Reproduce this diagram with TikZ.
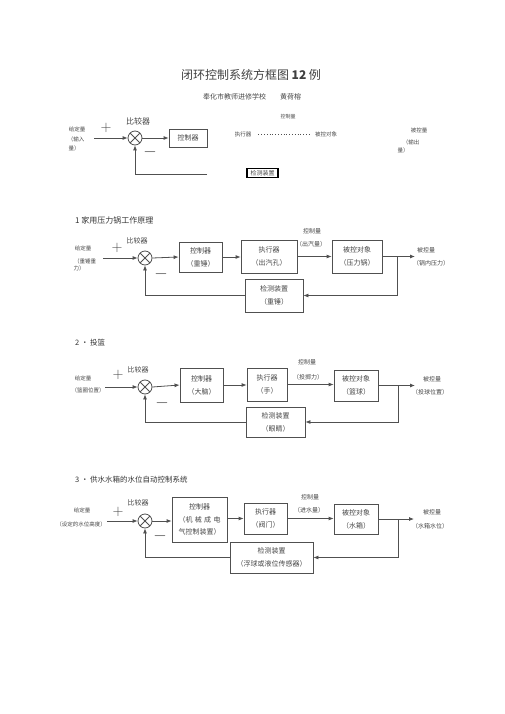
\documentclass[tikz,border=0pt]{standalone}
\usepackage{fontspec}
\setmainfont{Noto Sans CJK SC}
\usetikzlibrary{arrows.meta,positioning,calc}
\definecolor{ink}{RGB}{70,70,70}
\definecolor{wire}{RGB}{80,80,80}
\newcommand\fsz[2]{\fontsize{#1}{#2}\selectfont}
\tikzset{
  blk/.style={draw=wire,line width=0.8pt,align=center,inner sep=1pt,text=ink,font=\fsz{7}{13}},
  cmp/.style={circle,draw=wire,line width=0.8pt,minimum size=14pt,inner sep=0pt,
    path picture={\draw[wire,line width=0.8pt]
      (path picture bounding box.north west) -- (path picture bounding box.south east)
      (path picture bounding box.north east) -- (path picture bounding box.south west);}},
  flow/.style={-{Latex[length=5pt,width=4pt]},line width=0.8pt,draw=wire},
  lab/.style={text=ink,align=center,inner sep=1pt,font=\fsz{6}{12}},
  tiny/.style={lab,font=\fsz{5.5}{7}},
  sgn/.style={text=ink,inner sep=0pt,font=\fsz{15}{15}},
  neg/.style={text=ink,inner sep=0pt,font=\fsz{18}{18}},
  head/.style={text=black!80,anchor=west,inner sep=0pt,font=\fsz{7.5}{9}},
}

\begin{document}
\begin{tikzpicture}[x=1pt,y=-1pt]
\useasboundingbox (0,0) rectangle (505,714);

\node[text=black!75,inner sep=0pt,font=\fsz{12}{14}] (title) at (251,75) {闭环控制系统方框图 \textbf{12} 例};
\node[text=ink,inner sep=0pt,font=\fsz{7}{9}] (author) at (252,97) {奉化市教师进修学校\hspace{14pt}黄荷榕};

% 0
\node[cmp] (cmp0) at (135,138) {};
\node[blk,minimum width=38pt,minimum height=18pt] (ctl0) at (188,138) {控制器};
\node[blk,draw=black,line width=1.2pt,minimum width=31pt,minimum height=9pt,font=\fsz{6}{7}] (det0) at (262.5,173) {检测装置};
\coordinate (in0) at (94,138);
\coordinate (fb0) at (207,174);
\node[tiny] (set0) at (77,129) {给定量};
\node[tiny] (set0b) at (76,139) {（输入};
\node[tiny] (set0c) at (74,148) {量）};
\node[sgn] (plus0) at (106,128) {$+$};
\node[lab,font=\fsz{8}{9}] (cmpl0) at (138,121) {比较器};
\node[neg] (minus0) at (150,152) {$-$};
\node[tiny] (act0) at (243,134) {执行器};
\node[tiny] (obj0) at (326,134) {被控对象};
\node[tiny,font=\fsz{5}{6}] (u0) at (288,117) {控制量};
\node[tiny] (y0) at (419,130) {被控量};
\node[tiny] (y0b) at (411,142) {（输出};
\node[tiny] (y0c) at (403,150) {量）};
\draw[flow] (in0) -- (cmp0.west);
\draw[flow] (cmp0.east) -- (ctl0.west);
\draw[flow] (fb0) -| (cmp0.south);
\draw[wire,line width=0.5pt,dash pattern=on 0.8pt off 2pt,shorten <=6pt,shorten >=3pt] (act0.east) -- (obj0.west);

% 1
\node[head,font=\fsz{8}{9}] (h1) at (75,220) {1 家用压力锅工作原理};
\node[cmp] (cmp1) at (145,258) {};
\node[blk,minimum width=43pt,minimum height=30pt] (ctl1) at (200.5,257) {控制器\\（重锤）};
\node[blk,minimum width=56pt,minimum height=33pt] (act1) at (269,256.5) {执行器\\（出汽孔）};
\node[blk,minimum width=50pt,minimum height=33pt] (obj1) at (357,256.5) {被控对象\\（压力锅）};
\node[blk,minimum width=58pt,minimum height=33pt] (det1) at (274,295.5) {检测装置\\（重锤）};
\coordinate (in1) at (103,258);
\coordinate (out1) at (415,256.5);
\coordinate (br1) at (397,256.5);
\node[tiny] (set1) at (83,248) {给定量};
\node[tiny] (set1b) at (85,261) {（重锤重};
\node[tiny] (set1c) at (79,268) {力）};
\node[sgn] (plus1) at (117,248) {$+$};
\node[lab,font=\fsz{7}{9}] (cmpl1) at (137,241) {比较器};
\node[neg] (minus1) at (161,274) {$-$};
\node[lab] (u1) at (312,231) {控制量};
\node[lab] (u1b) at (311,244) {（出汽量）};
\node[lab] (y1) at (426,250) {被控量};
\node[lab] (y1b) at (431,263) {（锅内压力）};
\draw[flow] (in1) -- (cmp1.west);
\draw[flow] (cmp1.east) -- (ctl1.west);
\draw[flow] (ctl1.east) -- (ctl1.east -| act1.west);
\draw[flow] (act1.east) -- (obj1.west);
\draw[flow] (obj1.east) -- (out1);
\draw[flow] (br1) |- (det1.east);
\draw[flow] (det1.west) -| (cmp1.south);

% 2
\node[head] (h2) at (75,343) {2 · 投篮};
\node[cmp] (cmp2) at (145,387) {};
\node[blk,minimum width=43pt,minimum height=34pt] (ctl2) at (201.5,385) {控制器\\（大脑）};
\node[blk,minimum width=40pt,minimum height=33pt] (act2) at (267,384.5) {执行器\\（手）};
\node[blk,minimum width=44pt,minimum height=31pt] (obj2) at (356,385.5) {被控对象\\（篮球）};
\node[blk,minimum width=59pt,minimum height=30pt] (det2) at (275.5,422) {检测装置\\（眼睛）};
\coordinate (in2) at (105,387);
\coordinate (out2) at (415,385.5);
\coordinate (br2) at (398,385.5);
\node[tiny] (set2) at (83,378) {给定量};
\node[tiny] (set2b) at (88,390) {（篮圈位置）};
\node[sgn] (plus2) at (118,375) {$+$};
\node[lab,font=\fsz{7}{9}] (cmpl2) at (138,370) {比较器};
\node[neg] (minus2) at (162,403) {$-$};
\node[lab] (u2) at (307,362) {控制量};
\node[lab] (u2b) at (308,377) {（投掷力）};
\node[lab] (y2) at (432,379) {被控量};
\node[lab] (y2b) at (430,392) {（投球位置）};
\draw[flow] (in2) -- (cmp2.west);
\draw[flow] (cmp2.east) -- (ctl2.west);
\draw[flow] (ctl2.east) -- (ctl2.east -| act2.west);
\draw[flow] (act2.east) -- (act2.east -| obj2.west);
\draw[flow] (obj2.east) -- (out2);
\draw[flow] (br2) |- (det2.east);
\draw[flow] (det2.west) -| (cmp2.south);

% 3
\node[head] (h3) at (75,480) {3 · 供水水箱的水位自动控制系统};
\node[cmp] (cmp3) at (145,521) {};
\node[blk,minimum width=55pt,minimum height=45pt,font=\fsz{7}{12.5}] (ctl3) at (199.5,519.5) {控制器\\（机\,\,械\,\,成\,\,电\\气控制装置）};
\node[blk,minimum width=43pt,minimum height=31pt] (act3) at (265.5,518.5) {执行器\\（阀门）};
\node[blk,minimum width=44pt,minimum height=30pt] (obj3) at (356,519) {被控对象\\（水箱）};
\node[blk,minimum width=83pt,minimum height=31pt] (det3) at (271.5,557.5) {检测装置\\（浮球或液位传感器）};
\coordinate (in3) at (107,521);
\coordinate (out3) at (414,519);
\coordinate (br3) at (398,519);
\node[tiny] (set3) at (82,510) {给定量};
\node[tiny] (set3b) at (81,524) {（设定的水位高度）};
\node[sgn] (plus3) at (118,512) {$+$};
\node[lab,font=\fsz{7}{9}] (cmpl3) at (138,503) {比较器};
\node[neg] (minus3) at (160,536) {$-$};
\node[lab] (u3) at (310,497) {控制量};
\node[lab] (u3b) at (309,510) {（进水量）};
\node[lab] (y3) at (432,512) {被控量};
\node[lab] (y3b) at (430,526) {（水箱水位）};
\draw[flow] (in3) -- (cmp3.west);
\draw[flow] (cmp3.east) -- (ctl3.west |- cmp3.east);
\draw[flow] (ctl3.east |- act3.west) -- (act3.west);
\draw[flow] (act3.east) -- (act3.east -| obj3.west);
\draw[flow] (obj3.east) -- (out3);
\draw[flow] (br3) |- (det3.east);
\draw[flow] (det3.west) -| (cmp3.south);
\end{tikzpicture}
\end{document}
